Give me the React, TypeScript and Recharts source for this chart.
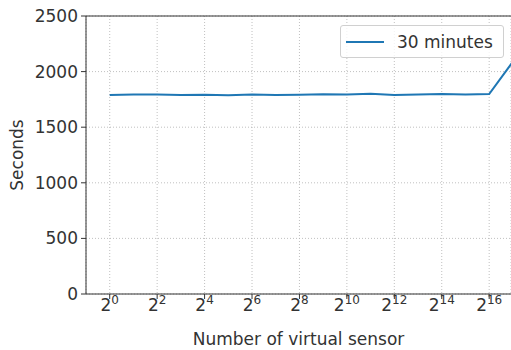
import React from "react";
import {
  LineChart,
  Line,
  XAxis,
  YAxis,
  CartesianGrid,
  ReferenceLine,
  Label,
} from "recharts";

const sensors = [
  1, 2, 4, 8, 16, 32, 64, 128, 256, 512, 1024, 2048, 4096, 8192, 16384, 32768,
  65536, 131072,
];
const seconds30 = [
  1790, 1795, 1793, 1790, 1792, 1788, 1793, 1790, 1792, 1797, 1795, 1800,
  1790, 1793, 1798, 1795, 1798, 2090,
];
const xTicks = [1, 4, 16, 64, 256, 1024, 4096, 16384, 65536];
const yTicks = [0, 500, 1000, 1500, 2000, 2500];

const data = sensors.map((n, i) => ({ n, s: seconds30[i] }));

const FONT = "DejaVu Sans, sans-serif";
const INK = "#333333";

const PowTick = (props: any) => {
  const { x, y, payload } = props;
  const exp = Math.round(Math.log2(payload.value));
  return (
    <text
      x={x}
      y={y + 10}
      textAnchor="middle"
      fill={INK}
      fontFamily={FONT}
      fontSize={17}
    >
      <tspan>2</tspan>
      <tspan fontSize={12} dy={-7}>
        {exp}
      </tspan>
    </text>
  );
};

const LegendBox = () => (
  <div
    style={{
      position: "absolute",
      left: 340,
      top: 25,
      width: 162,
      height: 31,
      border: "1px solid #d0d0d0",
      borderRadius: 3,
      background: "rgba(255,255,255,0.8)",
      display: "flex",
      alignItems: "center",
      fontFamily: FONT,
      fontSize: 17,
      color: INK,
    }}
  >
    <svg width={52} height={10} style={{ marginLeft: 4 }}>
      <line x1={1} y1={5} x2={39} y2={5} stroke="#1f77b4" strokeWidth={2} />
    </svg>
    <span>30 minutes</span>
  </div>
);

export default function App() {
  return (
    <div style={{ position: "absolute", left: 0, top: 0, width: 511, height: 350 }}>
      <LineChart
        width={511}
        height={350}
        data={data}
        margin={{ top: 16, right: 0, left: 0, bottom: 0 }}
      >
        <CartesianGrid stroke="#b0b0b0" strokeDasharray="1 2" strokeWidth={0.8} />
        <XAxis
          dataKey="n"
          type="number"
          scale="log"
          domain={[0.5, 124000]}
          allowDataOverflow
          ticks={xTicks}
          tick={<PowTick />}
          tickSize={5}
          height={56}
          stroke={INK}
          tickLine={{ stroke: INK }}
        >
          <Label
            value="Number of virtual sensor"
            position="insideBottom"
            offset={5}
            fill={INK}
            fontFamily={FONT}
            fontSize={17}
          />
        </XAxis>
        <YAxis
          type="number"
          domain={[0, 2500]}
          ticks={yTicks}
          width={86}
          tickSize={5}
          stroke={INK}
          tick={{ fill: INK, fontFamily: FONT, fontSize: 17 }}
          tickMargin={3}
        >
          <Label
            value="Seconds"
            angle={-90}
            position="insideLeft"
            offset={17}
            fill={INK}
            fontFamily={FONT}
            fontSize={17}
            style={{ textAnchor: "middle" }}
          />
        </YAxis>
        <ReferenceLine y={2500} stroke={INK} strokeWidth={1} />
        <Line
          dataKey="s"
          type="linear"
          stroke="#1f77b4"
          strokeWidth={2}
          dot={false}
          isAnimationActive={false}
        />
      </LineChart>
      <LegendBox />
    </div>
  );
}
